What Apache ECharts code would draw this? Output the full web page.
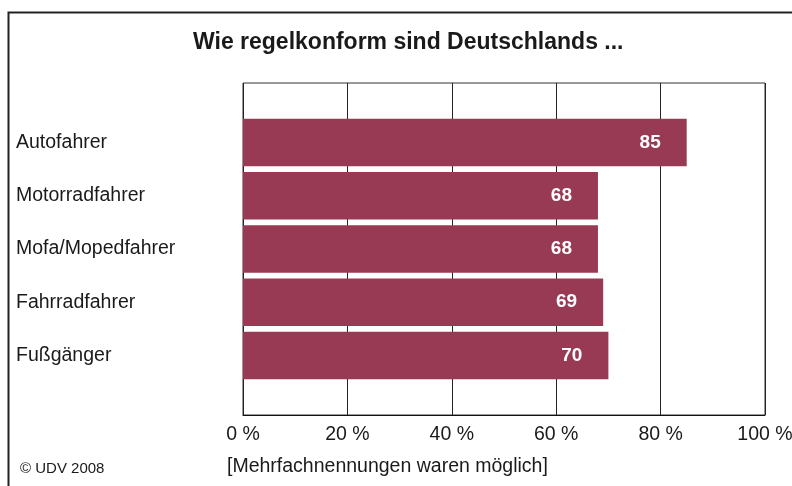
<!DOCTYPE html>
<html>
<head>
<meta charset="utf-8">
<script src="https://cdn.jsdelivr.net/npm/echarts@6/dist/echarts.min.js"></script>
<style>
  html, body { margin: 0; padding: 0; background: #fff; }
  #chart { width: 792px; height: 486px; }
</style>
</head>
<body>
<div id="chart"></div>
<script>
// Werte aus der Grafik
var gruppen = ['Autofahrer', 'Motorradfahrer', 'Mofa/Mopedfahrer', 'Fahrradfahrer', 'Fußgänger'];
var anteile = [85, 68, 68, 69, 70];
var achseMin = 0;
var achseMax = 100;
var achseSchritt = 20;

var font = '"Liberation Sans", Arial, Helvetica, sans-serif';
var chart = echarts.init(document.getElementById('chart'));

chart.setOption({
  animation: false,
  title: {
    text: 'Wie regelkonform sind Deutschlands ...',
    left: 193,
    top: 31,
    padding: 0,
    textStyle: { fontFamily: font, fontSize: 23, fontWeight: 'bold', color: '#1a1a1a' }
  },
  grid: [
    // Balkenbereich
    { left: 243, width: 522, top: 116, height: 266, outerBoundsMode: 'none' },
    // Rahmen mit Gitterlinien
    { left: 243, width: 522, top: 83, height: 332, outerBoundsMode: 'none',
      show: true, borderColor: '#333', borderWidth: 1 }
  ],
  xAxis: [
    { gridIndex: 0, type: 'value', min: achseMin, max: achseMax, interval: achseSchritt, show: false },
    {
      gridIndex: 1, type: 'value', min: achseMin, max: achseMax, interval: achseSchritt,
      axisLine: { show: true, lineStyle: { color: '#111', width: 1 } },
      axisTick: { show: false },
      splitLine: { show: true, lineStyle: { color: '#222', width: 1 } },
      axisLabel: {
        formatter: '{value} %', margin: 10,
        fontFamily: font, fontSize: 19.5, color: '#1a1a1a'
      }
    }
  ],
  yAxis: [
    {
      gridIndex: 0, type: 'category', data: gruppen, inverse: true,
      axisLine: { show: false }, axisTick: { show: false },
      axisLabel: { align: 'left', margin: 227, fontFamily: font, fontSize: 19.5, color: '#1a1a1a' }
    },
    { gridIndex: 1, type: 'value', show: false, min: 0, max: 1 }
  ],
  series: [{
    type: 'bar',
    xAxisIndex: 0,
    yAxisIndex: 0,
    data: anteile,
    barCategoryGap: '10.7%',
    itemStyle: { color: '#993a55' },
    label: {
      show: true, position: 'insideRight', distance: 26,
      fontFamily: font, fontSize: 19, fontWeight: 'bold', color: '#fff'
    }
  }],
  graphic: [
    {
      type: 'rect', left: 6, top: 10, silent: true,
      shape: { width: 900, height: 600 },
      style: { fill: 'none', stroke: '#222', lineWidth: 2 }
    },
    {
      type: 'text', left: 20, top: 461,
      style: { text: '© UDV 2008', font: '15px ' + font, fill: '#1a1a1a' }
    },
    {
      type: 'text', left: 227, top: 457,
      style: { text: '[Mehrfachnennungen waren möglich]', font: '19.5px ' + font, fill: '#1a1a1a' }
    }
  ]
});
</script>
</body>
</html>
